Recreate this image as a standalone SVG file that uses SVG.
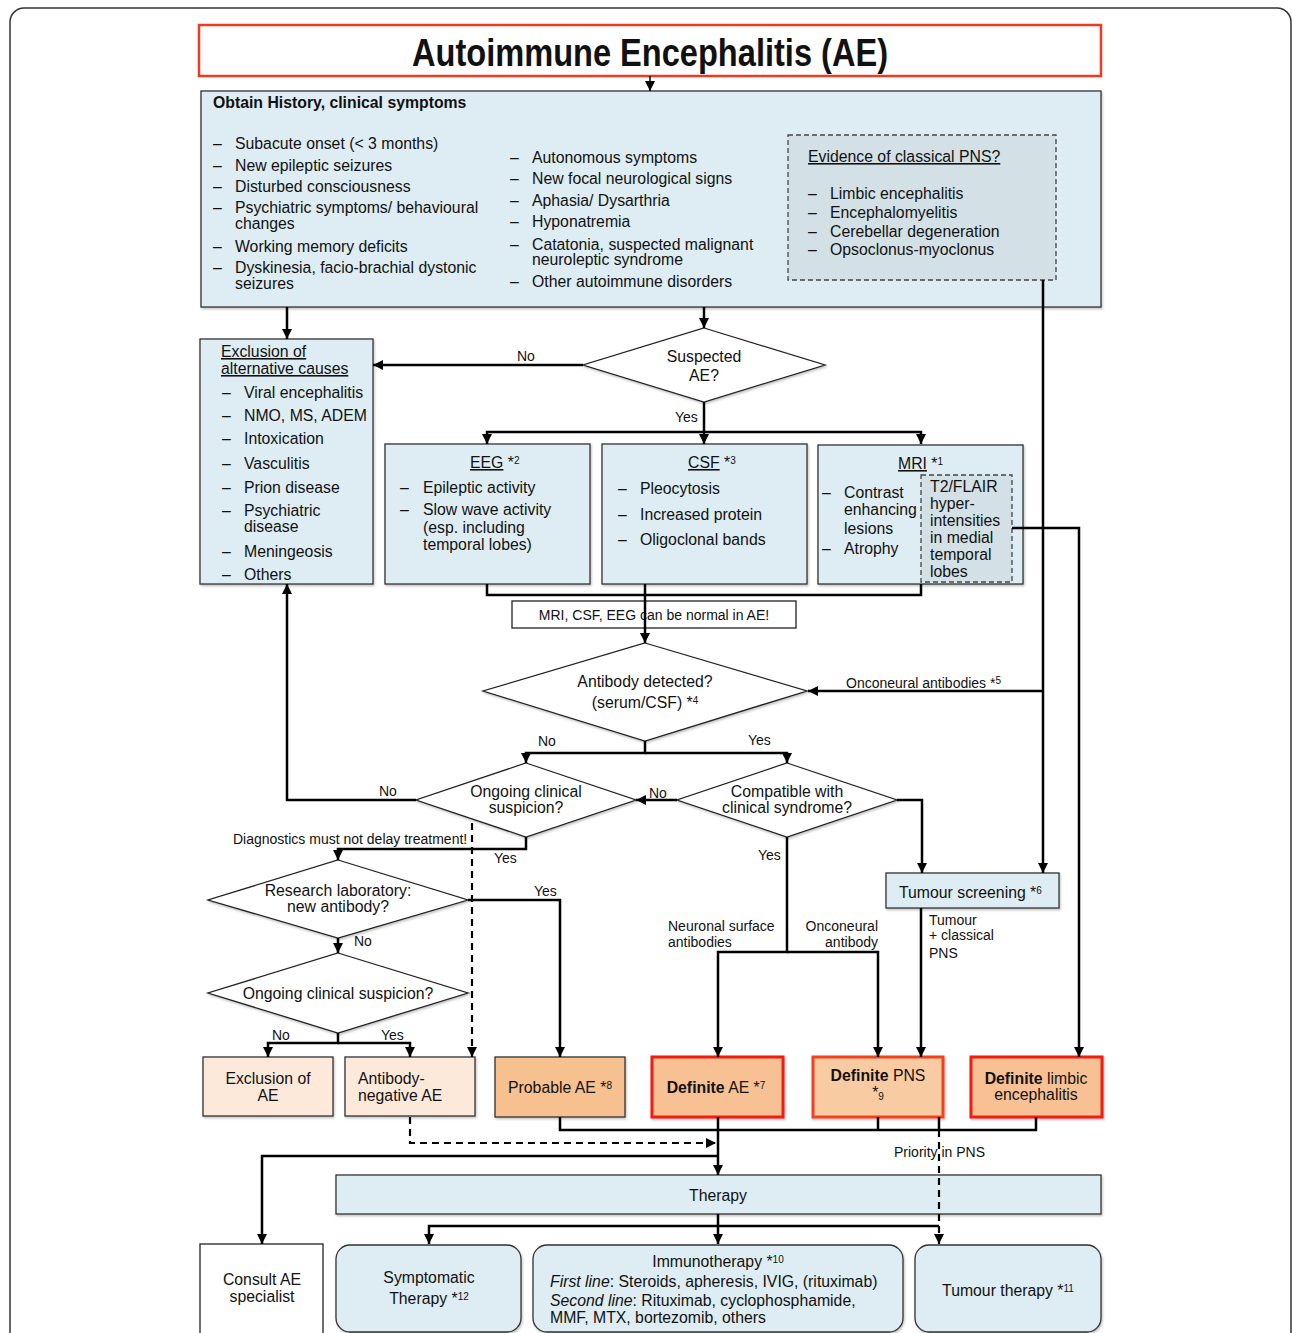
<svg xmlns="http://www.w3.org/2000/svg" width="1292" height="1333" viewBox="0 0 1292 1333">
<defs>
<marker id="ah" markerUnits="userSpaceOnUse" markerWidth="11" markerHeight="11" refX="10" refY="5" orient="auto">
<path d="M0,0 L10,5 L0,10 z" fill="#000"/>
</marker>
<filter id="sh" x="-5%" y="-5%" width="115%" height="120%">
<feDropShadow dx="1" dy="1.5" stdDeviation="1.2" flood-color="#000" flood-opacity="0.25"/>
</filter>
<style>
text{font-family:"Liberation Sans",Arial,Helvetica,sans-serif;font-size:15.8px;fill:#111}
.sm{font-size:14px}
.b{font-weight:bold}
.u{text-decoration:underline}
.mid{text-anchor:middle}
.blue{fill:#deedf3;stroke:#333;stroke-width:1.3}
.pns{fill:#d3e1e6;stroke:#444;stroke-width:1.3;stroke-dasharray:5 3}
.dia{fill:#fff;stroke:#222;stroke-width:1.3}
.light{fill:#fde9da;stroke:#333;stroke-width:1.3}
.prob{fill:#f7c08f;stroke:#333;stroke-width:1.3}
.def{fill:#f7c194;stroke:#f31c0f;stroke-width:3}
.defp{fill:#f9cba2;stroke:#f5401f;stroke-width:3}
.wht{fill:#fff;stroke:#222;stroke-width:1.3}
.c{fill:none;stroke:#000;stroke-width:2.5}
.d{fill:none;stroke:#000;stroke-width:2.2;stroke-dasharray:7 5}
.a{marker-end:url(#ah)}
.sup{font-size:10px}
</style>
</defs>
<rect x="0" y="0" width="1292" height="1333" fill="#fff"/>
<rect x="10" y="8" width="1281" height="1345" rx="14" fill="none" stroke="#333" stroke-width="1.5"/>

<g id="title">
<rect x="199" y="25" width="902" height="51" fill="#fff" stroke="#f03a1f" stroke-width="2.5"/>
<text x="650" y="66" class="b mid" style="font-size:38px" textLength="476" lengthAdjust="spacingAndGlyphs">Autoimmune Encephalitis (AE)</text>
</g>

<g id="history">
<rect x="201" y="91" width="900" height="216" class="blue" filter="url(#sh)"/>
<text x="213" y="108" class="b">Obtain History, clinical symptoms</text>
<g>
<text x="213" y="149">–</text><text x="235" y="149">Subacute onset (&lt; 3 months)</text>
<text x="213" y="171">–</text><text x="235" y="171">New epileptic seizures</text>
<text x="213" y="192">–</text><text x="235" y="192">Disturbed consciousness</text>
<text x="213" y="213">–</text><text x="235" y="213">Psychiatric symptoms/ behavioural</text>
<text x="235" y="229">changes</text>
<text x="213" y="252">–</text><text x="235" y="252">Working memory deficits</text>
<text x="213" y="273">–</text><text x="235" y="273">Dyskinesia, facio-brachial dystonic</text>
<text x="235" y="289">seizures</text>
</g>
<g>
<text x="510" y="163">–</text><text x="532" y="163">Autonomous symptoms</text>
<text x="510" y="184">–</text><text x="532" y="184">New focal neurological signs</text>
<text x="510" y="206">–</text><text x="532" y="206">Aphasia/ Dysarthria</text>
<text x="510" y="227">–</text><text x="532" y="227">Hyponatremia</text>
<text x="510" y="250">–</text><text x="532" y="250">Catatonia, suspected malignant</text>
<text x="532" y="265">neuroleptic syndrome</text>
<text x="510" y="287">–</text><text x="532" y="287">Other autoimmune disorders</text>
</g>
</g>

<g id="pns-evidence">
<rect x="788" y="135" width="268" height="145" class="pns"/>
<text x="808" y="162" class="u">Evidence of classical PNS?</text>
<text x="808" y="199">–</text><text x="830" y="199">Limbic encephalitis</text>
<text x="808" y="218">–</text><text x="830" y="218">Encephalomyelitis</text>
<text x="808" y="237">–</text><text x="830" y="237">Cerebellar degeneration</text>
<text x="808" y="255">–</text><text x="830" y="255">Opsoclonus-myoclonus</text>
</g>

<g id="exclusion-alt">
<rect x="200" y="339" width="173" height="245" class="blue" filter="url(#sh)"/>
<text x="221" y="357" class="u">Exclusion of</text>
<text x="221" y="374" class="u">alternative causes</text>
<text x="222" y="398">–</text><text x="244" y="398">Viral encephalitis</text>
<text x="222" y="421">–</text><text x="244" y="421">NMO, MS, ADEM</text>
<text x="222" y="444">–</text><text x="244" y="444">Intoxication</text>
<text x="222" y="469">–</text><text x="244" y="469">Vasculitis</text>
<text x="222" y="493">–</text><text x="244" y="493">Prion disease</text>
<text x="222" y="516">–</text><text x="244" y="516">Psychiatric</text>
<text x="244" y="532">disease</text>
<text x="222" y="557">–</text><text x="244" y="557">Meningeosis</text>
<text x="222" y="580">–</text><text x="244" y="580">Others</text>
</g>

<g id="suspected">
<polygon points="704,328 825,365 704,402 583,365" class="dia" filter="url(#sh)"/>
<text x="704" y="362" class="mid">Suspected</text>
<text x="704" y="381" class="mid">AE?</text>
</g>

<g id="eeg">
<rect x="385" y="444" width="205" height="140" class="blue" filter="url(#sh)"/>
<text x="470" y="468"><tspan class="u">EEG</tspan> *<tspan class="sup" dy="-4">2</tspan></text>
<text x="400" y="493">–</text><text x="423" y="493">Epileptic activity</text>
<text x="400" y="515">–</text><text x="423" y="515">Slow wave activity</text>
<text x="423" y="533">(esp. including</text>
<text x="423" y="550">temporal lobes)</text>
</g>

<g id="csf">
<rect x="602" y="444" width="205" height="140" class="blue" filter="url(#sh)"/>
<text x="688" y="468"><tspan class="u">CSF</tspan> *<tspan class="sup" dy="-4">3</tspan></text>
<text x="618" y="494">–</text><text x="640" y="494">Pleocytosis</text>
<text x="618" y="520">–</text><text x="640" y="520">Increased protein</text>
<text x="618" y="545">–</text><text x="640" y="545">Oligoclonal bands</text>
</g>

<g id="mri">
<rect x="818" y="445" width="205" height="139" class="blue" filter="url(#sh)"/>
<text x="898" y="469"><tspan class="u">MRI</tspan> *<tspan class="sup" dy="-4">1</tspan></text>
<text x="822" y="498">–</text><text x="844" y="498">Contrast</text>
<text x="844" y="515">enhancing</text>
<text x="844" y="534">lesions</text>
<text x="822" y="554">–</text><text x="844" y="554">Atrophy</text>
<rect x="921" y="475" width="91" height="107" class="pns"/>
<text x="930" y="492">T2/FLAIR</text>
<text x="930" y="509">hyper-</text>
<text x="930" y="526">intensities</text>
<text x="930" y="543">in medial</text>
<text x="930" y="560">temporal</text>
<text x="930" y="577">lobes</text>
</g>

<g id="note">
<rect x="512" y="601" width="284" height="27" fill="#fff" stroke="#222" stroke-width="1.3"/>
<text x="654" y="620" class="sm mid">MRI, CSF, EEG can be normal in AE!</text>
</g>

<g id="antibody">
<polygon points="645,643 807,691 645,741 483,691" class="dia" filter="url(#sh)"/>
<text x="645" y="687" class="mid">Antibody detected?</text>
<text x="645" y="708" class="mid">(serum/CSF) *<tspan class="sup" dy="-4">4</tspan></text>
</g>

<g id="ongoing1">
<polygon points="526,763 636,800 526,837 416,800" class="dia" filter="url(#sh)"/>
<text x="526" y="797" class="mid">Ongoing clinical</text>
<text x="526" y="813" class="mid">suspicion?</text>
</g>

<g id="compatible">
<polygon points="787,763 897,800 787,837 677,800" class="dia" filter="url(#sh)"/>
<text x="787" y="797" class="mid">Compatible with</text>
<text x="787" y="813" class="mid">clinical syndrome?</text>
</g>

<g id="research">
<polygon points="338,860 468,900 338,938 208,900" class="dia" filter="url(#sh)"/>
<text x="338" y="896" class="mid">Research laboratory:</text>
<text x="338" y="912" class="mid">new antibody?</text>
</g>

<g id="ongoing2">
<polygon points="338,953 468,993 338,1033 208,993" class="dia" filter="url(#sh)"/>
<text x="338" y="999" class="mid">Ongoing clinical suspicion?</text>
</g>

<g id="tumour-screening">
<rect x="886" y="873" width="173" height="35" class="blue" filter="url(#sh)"/>
<text x="899" y="898">Tumour screening *<tspan class="sup" dy="-4">6</tspan></text>
</g>

<g id="exclusion-ae">
<rect x="203" y="1057" width="130" height="59" class="light" filter="url(#sh)"/>
<text x="268" y="1084" class="mid">Exclusion of</text>
<text x="268" y="1101" class="mid">AE</text>
</g>

<g id="antibody-negative">
<rect x="345" y="1057" width="130" height="59" class="light" filter="url(#sh)"/>
<text x="358" y="1084">Antibody-</text>
<text x="358" y="1101">negative AE</text>
</g>

<g id="probable">
<rect x="495" y="1057" width="130" height="60" class="prob" filter="url(#sh)"/>
<text x="560" y="1093" class="mid">Probable AE *<tspan class="sup" dy="-4">8</tspan></text>
</g>

<g id="definite-ae">
<rect x="652" y="1057" width="131" height="60" class="def" filter="url(#sh)"/>
<text x="716" y="1093" class="mid"><tspan class="b">Definite</tspan> AE *<tspan class="sup" dy="-4">7</tspan></text>
</g>

<g id="definite-pns">
<rect x="813" y="1057" width="130" height="60" class="defp" filter="url(#sh)"/>
<text x="878" y="1081" class="mid"><tspan class="b">Definite</tspan> PNS</text>
<text x="878" y="1098" class="mid">*<tspan class="sup" dy="2">9</tspan></text>
</g>

<g id="definite-limbic">
<rect x="971" y="1057" width="131" height="60" class="def" filter="url(#sh)"/>
<text x="1036" y="1084" class="mid"><tspan class="b">Definite</tspan> limbic</text>
<text x="1036" y="1100" class="mid">encephalitis</text>
</g>

<g id="therapy">
<rect x="336" y="1175" width="765" height="39" class="blue" filter="url(#sh)"/>
<text x="718" y="1201" class="mid">Therapy</text>
</g>

<g id="consult">
<rect x="200" y="1244" width="123" height="92" class="wht"/>
<text x="262" y="1285" class="mid">Consult AE</text>
<text x="262" y="1302" class="mid">specialist</text>
</g>

<g id="symptomatic">
<rect x="336" y="1245" width="185" height="87" rx="14" class="blue" filter="url(#sh)"/>
<text x="429" y="1283" class="mid">Symptomatic</text>
<text x="429" y="1304" class="mid">Therapy *<tspan class="sup" dy="-4">12</tspan></text>
</g>

<g id="immunotherapy">
<rect x="533" y="1245" width="370" height="87" rx="14" class="blue" filter="url(#sh)"/>
<text x="718" y="1267" class="mid">Immunotherapy *<tspan class="sup" dy="-4">10</tspan></text>
<text x="550" y="1287"><tspan font-style="italic">First line</tspan>: Steroids, apheresis, IVIG, (rituximab)</text>
<text x="550" y="1306"><tspan font-style="italic">Second line</tspan>: Rituximab, cyclophosphamide,</text>
<text x="550" y="1323">MMF, MTX, bortezomib, others</text>
</g>

<g id="tumour-therapy">
<rect x="915" y="1245" width="186" height="87" rx="14" class="blue" filter="url(#sh)"/>
<text x="1008" y="1296" class="mid">Tumour therapy *<tspan class="sup" dy="-4">11</tspan></text>
</g>

<g id="connectors">
<path d="M650,76 V91" class="c a" style="stroke-width:1.5"/>
<path d="M287,307 V339" class="c a"/>
<path d="M704,307 V328" class="c a"/>
<path d="M1043,280 V873" class="c a"/>
<path d="M1043,691 H808" class="c a"/>
<path d="M583,365 H373" class="c a"/>
<path d="M704,402 V444" class="c a"/>
<path d="M704,432 H487 V444" class="c a"/>
<path d="M704,432 H921 V444" class="c a"/>
<path d="M1012,528 H1079 V1057" class="c a"/>
<path d="M487,584 V595 H921 V584" class="c"/>
<path d="M645,584 V643" class="c a"/>
<path d="M645,741 V753 H526 V763" class="c a"/>
<path d="M645,753 H787 V763" class="c a"/>
<path d="M677,800 H636" class="c a"/>
<path d="M416,800 H287 V584" class="c a"/>
<path d="M526,837 V849 H338 V860" class="c a"/>
<path d="M472,823 V1057" class="d a"/>
<path d="M468,900 H560 V1057" class="c a"/>
<path d="M338,938 V953" class="c a"/>
<path d="M338,1033 V1043 H268 V1057" class="c a"/>
<path d="M338,1043 H410 V1057" class="c a"/>
<path d="M897,800 H922 V873" class="c a"/>
<path d="M787,837 V952 H718 V1057" class="c a"/>
<path d="M787,952 H878 V1057" class="c a"/>
<path d="M921,908 V1057" class="c a"/>
<path d="M560,1117 V1130 H1036 V1117" class="c"/>
<path d="M878,1117 V1130 M939,1117 V1130" class="c"/>
<path d="M718,1117 V1175" class="c a"/>
<path d="M410,1117 V1143 H716" class="d a"/>
<path d="M718,1156 H262 V1244" class="c a"/>
<path d="M939,1130 V1244" class="d a"/>
<path d="M718,1214 V1244" class="c a"/>
<path d="M939,1226 H429 V1244" class="c a"/>
</g>

<g id="labels">
<text x="517" y="361" class="sm">No</text>
<text x="675" y="422" class="sm">Yes</text>
<text x="846" y="688" class="sm">Onconeural antibodies *<tspan class="sup" dy="-4">5</tspan></text>
<text x="538" y="746" class="sm">No</text>
<text x="748" y="745" class="sm">Yes</text>
<text x="379" y="796" class="sm">No</text>
<text x="649" y="798" class="sm">No</text>
<text x="233" y="844" class="sm">Diagnostics must not delay treatment!</text>
<text x="494" y="863" class="sm">Yes</text>
<text x="534" y="896" class="sm">Yes</text>
<text x="354" y="946" class="sm">No</text>
<text x="272" y="1040" class="sm">No</text>
<text x="381" y="1040" class="sm">Yes</text>
<text x="758" y="860" class="sm">Yes</text>
<text x="668" y="931" class="sm">Neuronal surface</text>
<text x="668" y="947" class="sm">antibodies</text>
<text x="878" y="931" class="sm" text-anchor="end">Onconeural</text>
<text x="878" y="947" class="sm" text-anchor="end">antibody</text>
<text x="929" y="925" class="sm">Tumour</text>
<text x="929" y="940" class="sm">+ classical</text>
<text x="929" y="958" class="sm">PNS</text>
<text x="894" y="1157" class="sm">Priority in PNS</text>
</g>
</svg>
